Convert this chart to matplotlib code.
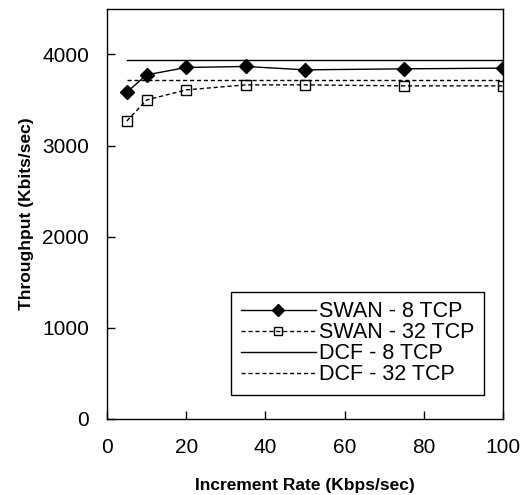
import matplotlib
matplotlib.use('Agg')
import matplotlib.pyplot as plt

plt.rcParams['font.family'] = ['Liberation Sans', 'DejaVu Sans']

# --- data ---
rate = [5, 10, 20, 35, 50, 75, 100]
swan_8 = [3586, 3776, 3857, 3868, 3831, 3842, 3850]
swan_32 = [3269, 3500, 3611, 3666, 3666, 3655, 3655]
dcf_8 = [3942, 3942, 3942, 3942, 3942, 3942, 3942]
dcf_32 = [3721, 3721, 3721, 3721, 3721, 3721, 3721]

x_ticks = [0, 20, 40, 60, 80, 100]
y_ticks = [0, 1000, 2000, 3000, 4000]

fig = plt.figure(figsize=(5.22, 4.95), dpi=100)
ax = fig.add_axes([0.205, 0.154, 0.759, 0.828])

ax.plot(rate, swan_8, color='black', lw=1.0, marker='D', ms=7.5,
        mfc='black', mec='black', label='SWAN - 8 TCP')
ax.plot(rate, swan_32, color='black', lw=1.0, ls=(0, (3, 2)), marker='s', ms=7.5,
        mfc='none', mec='black', mew=1.0, label='SWAN - 32 TCP')
ax.plot(rate, dcf_8, color='black', lw=1.0, label='DCF - 8 TCP')
ax.plot(rate, dcf_32, color='black', lw=1.0, ls=(0, (3, 2)), label='DCF - 32 TCP')

ax.set_xlim(0, 100)
ax.set_ylim(0, 4500)
ax.set_xticks(x_ticks)
ax.set_yticks(y_ticks)
ax.tick_params(direction='in', length=6, width=1, labelsize=15)
ax.tick_params(axis='x', pad=14)
ax.tick_params(axis='y', pad=13)
for s in ax.spines.values():
    s.set_linewidth(1.0)

ax.set_xlabel('Increment Rate (Kbps/sec)', fontsize=12.5, fontweight='bold', labelpad=15)
ax.set_ylabel('Throughput (Kbits/sec)', fontsize=12.5, fontweight='bold', labelpad=6)

leg = ax.legend(loc='lower right', bbox_to_anchor=(0.952, 0.058), fontsize=15.5,
                frameon=True, fancybox=False, edgecolor='black', framealpha=1,
                handlelength=3.5, handletextpad=0.15, borderpad=0.45,
                labelspacing=0.0, borderaxespad=0, markerscale=0.75)
leg.get_frame().set_linewidth(1.0)

fig.savefig('out.png', dpi=100)
